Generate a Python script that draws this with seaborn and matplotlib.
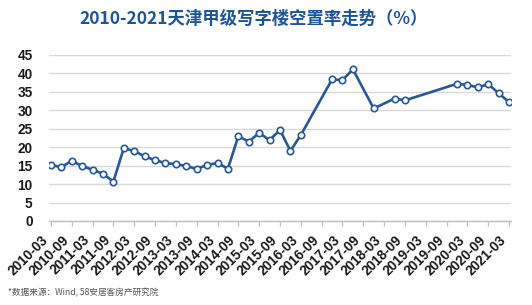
import matplotlib
matplotlib.use("Agg")
import matplotlib.pyplot as plt
import seaborn as sns
import pandas as pd

# ---- data ----
quarters = ["2010-03", "2010-06", "2010-09", "2010-12", "2011-03", "2011-06", "2011-09", "2011-12",
            "2012-03", "2012-06", "2012-09", "2012-12", "2013-03", "2013-06", "2013-09", "2013-12",
            "2014-03", "2014-06", "2014-09", "2014-12", "2015-03", "2015-06", "2015-09", "2015-12",
            "2016-03", "2016-12", "2017-03", "2017-06", "2017-12", "2018-06", "2018-09",
            "2019-12", "2020-03", "2020-06", "2020-09", "2020-12", "2021-03"]
vacancy = [15.2, 14.6, 16.3, 14.9, 13.9, 12.8, 10.7, 19.7,
           19.0, 17.5, 16.5, 15.7, 15.4, 14.9, 14.1, 15.2,
           15.7, 14.2, 23.0, 21.5, 23.9, 21.9, 24.7, 19.0,
           23.3, 38.4, 38.2, 41.1, 30.5, 33.2, 32.7,
           37.2, 36.9, 36.2, 37.1, 34.6, 32.2]
tick_labels = ["2010-03", "2010-09", "2011-03", "2011-09", "2012-03", "2012-09", "2013-03",
               "2013-09", "2014-03", "2014-09", "2015-03", "2015-09", "2016-03", "2016-09",
               "2017-03", "2017-09", "2018-03", "2018-09", "2019-03", "2019-09", "2020-03",
               "2020-09", "2021-03"]
y_ticks = [0, 5, 10, 15, 20, 25, 30, 35, 40, 45]
title = "2010-2021天津甲级写字楼空置率走势（%）"
source = "*数据来源：Wind, 58安居客房产研究院"


def qpos(s):
    y, m = s.split("-")
    return (int(y) - 2010) * 4 + int(m) // 3 - 1


df = pd.DataFrame({"q": [qpos(s) for s in quarters], "v": vacancy})
tick_pos = [qpos(s) for s in tick_labels]

sns.set_theme(style="white")
plt.rcParams["font.family"] = ["Noto Sans CJK SC", "DejaVu Sans"]

LINE = "#28589A"
fig = plt.figure(figsize=(5.32, 3.05), dpi=100)
ax = fig.add_axes([49.3 / 532, 1 - 221 / 305, (510.7 - 49.3) / 532, (221 - 55) / 305])

sns.lineplot(data=df, x="q", y="v", ax=ax, color=LINE, linewidth=1.9,
             marker="o", markersize=4.6, markerfacecolor="white",
             markeredgecolor=LINE, markeredgewidth=1.2, zorder=3)

ax.set_xlim(-0.15, 44.15)
ax.set_ylim(0, 45)
ax.set_yticks(y_ticks)
ax.set_yticklabels([str(t) for t in y_ticks], fontsize=9.8, color="#1a1a1a",
                   family=["Liberation Sans"], fontweight="bold")
ax.set_xticks(tick_pos)
ax.set_xticklabels(tick_labels, rotation=45, ha="right", fontsize=9.8,
                   color="#1a1a1a", family=["Liberation Sans"], fontweight="bold")
ax.set_xlabel("")
ax.set_ylabel("")
ax.grid(axis="y", color="#d9d9d9", linewidth=1.0)
ax.grid(axis="x", visible=False)
for s in ["top", "right", "left"]:
    ax.spines[s].set_visible(False)
ax.spines["bottom"].set_color("#bfbfbf")
ax.spines["bottom"].set_linewidth(1.0)
ax.tick_params(axis="x", bottom=True, length=3.5, width=0.9, color="#bfbfbf", pad=5)
ax.tick_params(axis="y", left=False, pad=6)

fig.text(254 / 532, 1 - 19 / 305, title, ha="center", va="center",
         fontsize=12.5, fontweight="bold", color="#1F5498",
         family=["Noto Sans CJK SC", "DejaVu Sans"])
fig.text(8 / 532, 1 - 293 / 305, source, ha="left", va="center",
         fontsize=6.2, color="#555555", family=["Noto Sans CJK SC", "DejaVu Sans"])

fig.savefig("out.png", dpi=100)
